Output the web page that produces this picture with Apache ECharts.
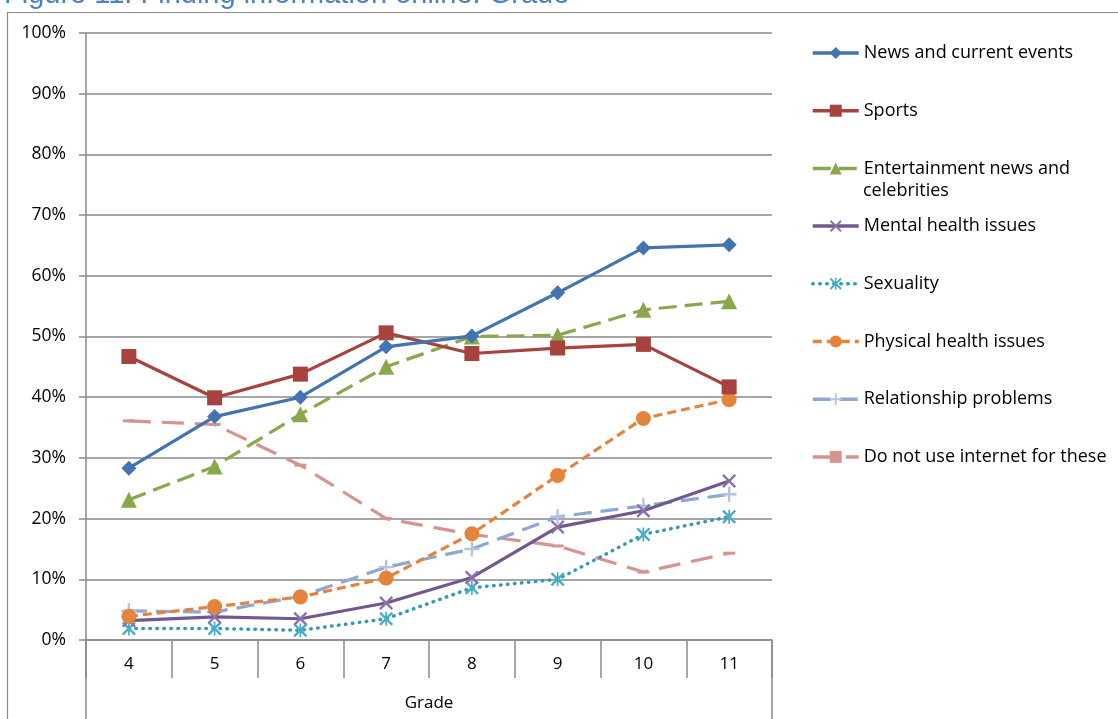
<!DOCTYPE html>
<html>
<head>
<meta charset="utf-8">
<style>
  html, body { margin: 0; padding: 0; background: #fff; }
  #chart { width: 1118px; height: 719px; }
</style>
<script src="https://cdn.jsdelivr.net/npm/echarts@6/dist/echarts.min.js"></script>
</head>
<body>
<div id="chart"></div>
<script>
// Share of students (%) who look up each topic online, by grade
const grades = ['4', '5', '6', '7', '8', '9', '10', '11'];
const yTicks = [0, 10, 20, 30, 40, 50, 60, 70, 80, 90, 100];

const newsEvents    = [28.3, 36.8, 40.0, 48.3, 50.1, 57.2, 64.6, 65.1];
const sports        = [46.7, 39.9, 43.8, 50.6, 47.2, 48.1, 48.7, 41.7];
const entertainment = [23.1, 28.6, 37.2, 45.0, 50.0, 50.2, 54.4, 55.8];
const mentalHealth  = [3.2, 3.8, 3.5, 6.1, 10.3, 18.6, 21.3, 26.2];
const sexuality     = [1.9, 1.9, 1.6, 3.5, 8.6, 10.0, 17.4, 20.3];
const physicalHealth= [3.9, 5.5, 7.1, 10.2, 17.5, 27.1, 36.5, 39.6];
const relationships = [4.8, 4.6, 7.2, 12.0, 15.0, 20.3, 22.1, 24.0];
const notUsed       = [36.1, 35.5, 28.8, 20.0, 17.4, 15.5, 11.2, 14.3];

const seriesNames = [
  'News and current events', 'Sports', 'Entertainment news and', 'Mental health issues',
  'Sexuality', 'Physical health issues', 'Relationship problems', 'Do not use internet for these'
];

const FONT = 'Open Sans';
const GRID_GREY = '#8a8a8a';

const xMark = 'path://M0,1.2 L1.2,0 L5,3.8 L8.8,0 L10,1.2 L6.2,5 L10,8.8 L8.8,10 L5,6.2 L1.2,10 L0,8.8 L3.8,5 Z';
const starMark = 'path://M0,1.2 L1.2,0 L4.4,3.2 L4.4,0 L5.6,0 L5.6,3.2 L8.8,0 L10,1.2 L6.2,5 L10,8.8 L8.8,10 L5.6,6.8 L5.6,10 L4.4,10 L4.4,6.8 L1.2,10 L0,8.8 L3.8,5 Z';
const plusMark = 'path://M4.2,0 H5.8 V4.2 H10 V5.8 H5.8 V10 H4.2 V5.8 H0 V4.2 H4.2 Z';
const dashMark = 'path://M0,0 H10 V3 H0 Z';

function lineSeries(name, data, color, opts) {
  return Object.assign({
    name: name,
    type: 'line',
    data: data,
    symbolSize: 12,
    showAllSymbol: true,
    itemStyle: { color: color },
    lineStyle: { color: color, width: 3.2 },
    emphasis: { disabled: true },
    animation: false,
    z: 3
  }, opts);
}

const chart = echarts.init(document.getElementById('chart'));

chart.setOption({
  backgroundColor: '#ffffff',
  textStyle: { fontFamily: FONT },
  title: {
    text: 'Figure 11: Finding information online: Grade',
    left: -1,
    top: -25,
    textStyle: { fontFamily: 'Liberation Sans', fontSize: 29, fontWeight: 'normal', color: '#4f81bd' }
  },
  grid: { left: 86, right: 346, top: 33, bottom: 79, containLabel: false },
  legend: {
    orient: 'vertical',
    left: 806,
    top: 38,
    itemWidth: 46,
    itemHeight: 15,
    itemGap: 37.7,
    selectedMode: false,
    lineStyle: { width: 3.5 },
    textStyle: { fontFamily: FONT, fontSize: 18, color: '#000', lineHeight: 20 },
    data: seriesNames
  },
  xAxis: {
    type: 'category',
    data: grades,
    boundaryGap: true,
    name: 'Grade',
    nameLocation: 'middle',
    nameGap: 55,
    nameTextStyle: { fontFamily: FONT, fontSize: 17, color: '#000' },
    axisLine: { lineStyle: { color: GRID_GREY, width: 1.5 } },
    axisTick: { show: true, interval: 0, length: 38, lineStyle: { color: GRID_GREY, width: 1.5 } },
    axisLabel: { margin: 16, fontFamily: FONT, fontSize: 17, color: '#000' }
  },
  yAxis: {
    type: 'value',
    min: 0,
    max: 100,
    interval: 10,
    axisLine: { show: true, lineStyle: { color: GRID_GREY, width: 1.5 } },
    axisTick: { show: true, length: 7, lineStyle: { color: GRID_GREY, width: 1.5 } },
    splitLine: { show: true, lineStyle: { color: GRID_GREY, width: 1.5 } },
    axisLabel: {
      margin: 20,
      fontFamily: FONT,
      fontSize: 17.5,
      color: '#000',
      formatter: function (v) { return yTicks.indexOf(v) >= 0 ? v + '%' : ''; }
    }
  },
  graphic: [
    // outer chart frame
    { type: 'rect', shape: { x: 7.5, y: 12.5, width: 1300, height: 900 },
      style: { fill: 'none', stroke: '#8a8a8a', lineWidth: 1.2 }, silent: true, z: 0 },
    // category-table sides under the plot
    { type: 'line', shape: { x1: 86, y1: 640, x2: 86, y2: 719 },
      style: { stroke: GRID_GREY, lineWidth: 1.5 }, silent: true },
    { type: 'line', shape: { x1: 772, y1: 640, x2: 772, y2: 719 },
      style: { stroke: GRID_GREY, lineWidth: 1.5 }, silent: true },
    // second line of the wrapped legend label
    { type: 'text', left: 863, top: 182,
      style: { text: 'celebrities', fontFamily: FONT, fontSize: 18, fill: '#000' }, silent: true }
  ],
  series: [
    lineSeries(seriesNames[0], newsEvents, '#4373b0', { symbol: 'diamond', symbolSize: 15, z: 8 }),
    lineSeries(seriesNames[1], sports, '#a8423f', { symbol: 'rect', symbolSize: 15, z: 7 }),
    lineSeries(seriesNames[2], entertainment, '#8aa84b', {
      symbol: 'triangle', symbolSize: 16,
      lineStyle: { color: '#8aa84b', width: 3.2, type: [18, 8] }, z: 6 }),
    lineSeries(seriesNames[3], mentalHealth, '#71598f', {
      symbol: xMark, symbolSize: 14, itemStyle: { color: '#8a72a8' }, z: 5 }),
    lineSeries(seriesNames[4], sexuality, '#3399b0', {
      symbol: starMark, symbolSize: 14, itemStyle: { color: '#4bacc6' },
      lineStyle: { color: '#3399b0', width: 3.5, type: [0.5, 6.5], cap: 'round' }, z: 4 }),
    lineSeries(seriesNames[5], physicalHealth, '#e4843c', {
      symbol: 'circle', symbolSize: 15,
      lineStyle: { color: '#e4843c', width: 3.2, type: [9, 5] }, z: 5 }),
    lineSeries(seriesNames[6], relationships, '#8fa7d3', {
      symbol: plusMark, symbolSize: 15, itemStyle: { color: '#b3c4e2' },
      lineStyle: { color: '#8fa7d3', width: 3.2, type: [18, 9] }, z: 4 }),
    lineSeries(seriesNames[7], notUsed, '#d69392', {
      symbol: dashMark, symbolSize: [12, 3],
      lineStyle: { color: '#d69392', width: 3.2, type: [22, 11] }, z: 2 })
  ]
});
</script>
</body>
</html>
